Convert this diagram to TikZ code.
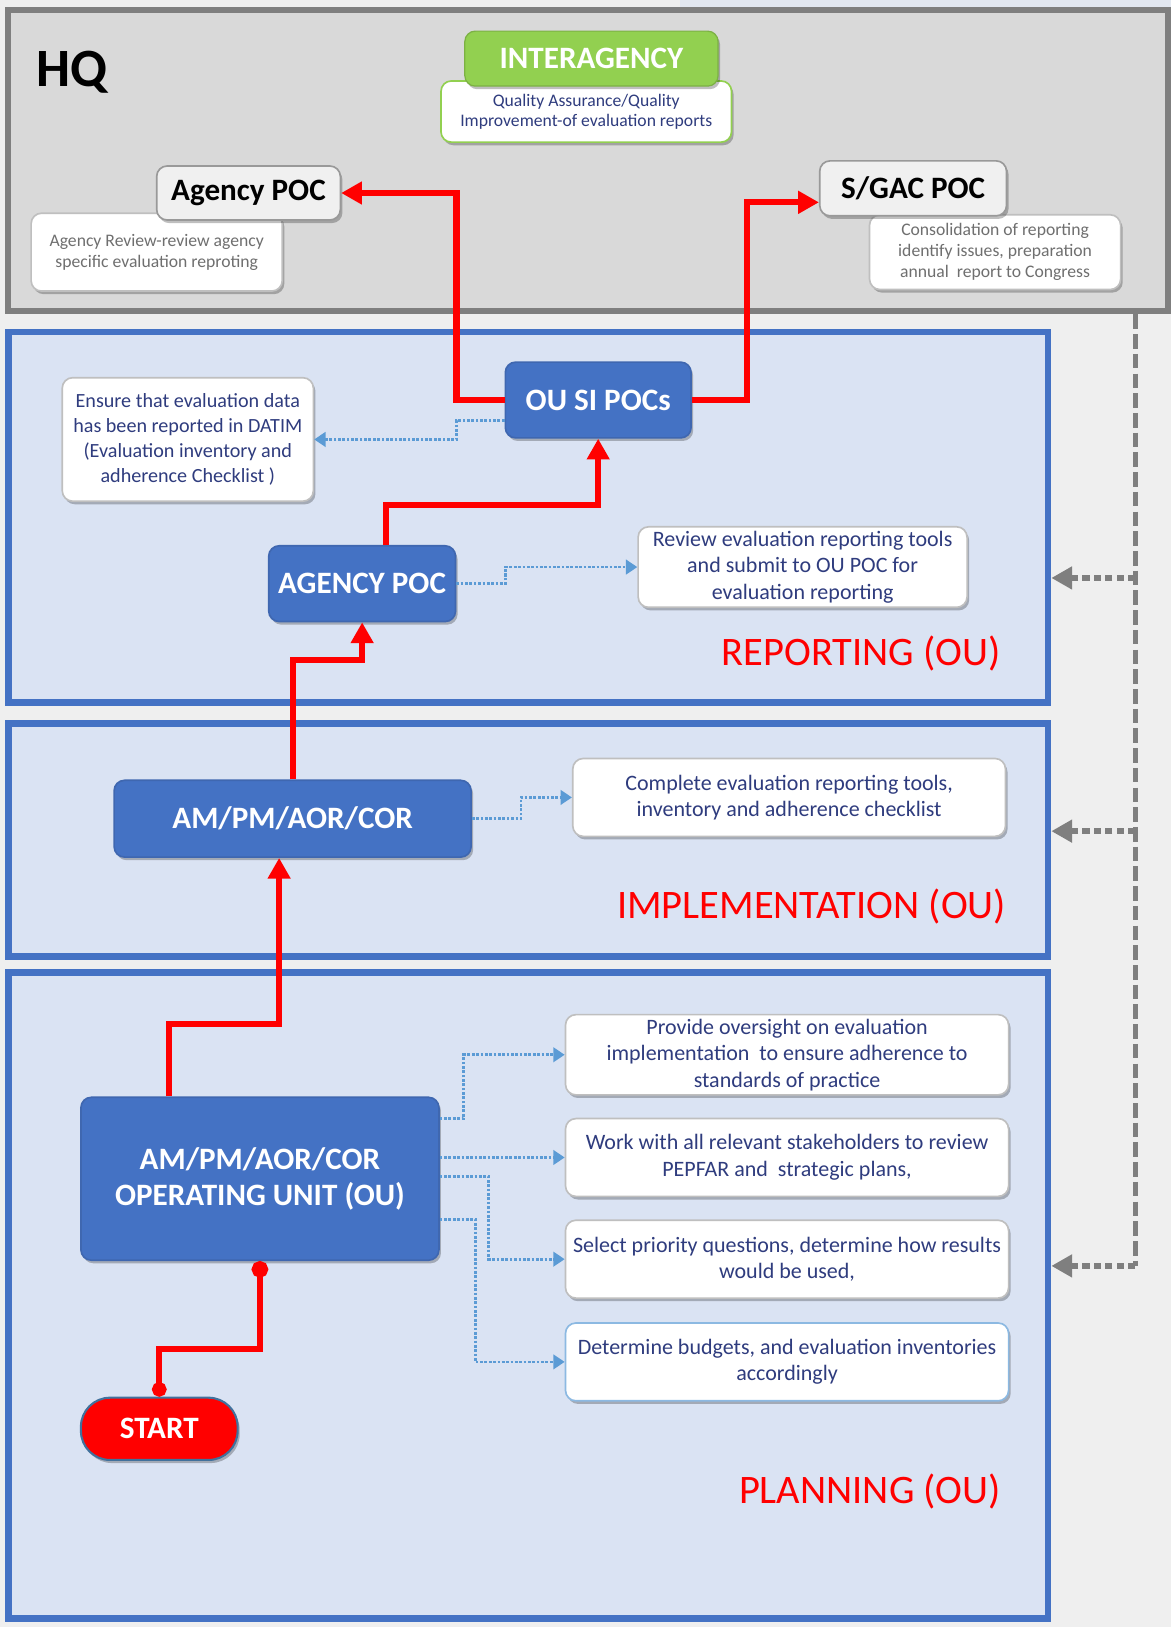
\documentclass[tikz,border=0pt]{standalone}
\usepackage{fontspec}
\setmainfont{Carlito}
\usetikzlibrary{arrows.meta,shadows,calc}
\definecolor{bgc}{HTML}{EFEFEF}
\definecolor{topstrip}{HTML}{E2E7F0}
\definecolor{hqfill}{HTML}{D9D9D9}
\definecolor{hqborder}{HTML}{7F7F7F}
\definecolor{secfill}{HTML}{DAE3F3}
\definecolor{secborder}{HTML}{4472C4}
\definecolor{bluefill}{HTML}{4472C4}
\definecolor{blueborder}{HTML}{3F67B0}
\definecolor{greenfill}{HTML}{92D050}
\definecolor{navytext}{HTML}{2F3C7E}
\definecolor{graytext}{HTML}{6F6F6F}
\definecolor{boxgray}{HTML}{BFBFBF}
\definecolor{dotblue}{HTML}{5B9BD5}
\definecolor{gline}{HTML}{7F7F7F}
\definecolor{startborder}{HTML}{41719C}
\tikzset{
  hqbox/.style={draw=hqborder, fill=hqfill, line width=3pt, inner sep=0pt},
  secbox/.style={draw=secborder, fill=secfill, line width=3.2pt, inner sep=0pt},
  shadowed/.style={drop shadow={shadow xshift=1pt, shadow yshift=-1.5pt, opacity=0.25, fill=black}},
  whitebox/.style={draw=boxgray, line width=0.8pt, fill=white, rounded corners=5pt, align=center, inner sep=2pt, text=navytext, font=\fontsize{10.6}{12.8}\selectfont, shadowed},
  hqwhite/.style={whitebox, text=graytext, font=\fontsize{8.5}{10.2}\selectfont},
  hqpoc/.style={draw=boxgray!80!black, line width=0.8pt, fill=white!94!black, rounded corners=5pt, align=center, font=\bfseries\fontsize{15}{17}\selectfont, text=black, shadowed},
  bluebox/.style={draw=blueborder, line width=0.8pt, fill=bluefill, rounded corners=5pt, align=center, text=white, font=\bfseries\fontsize{15}{17.5}\selectfont, shadowed},
  seclabel/.style={text=red, anchor=east, inner sep=0pt, font=\fontsize{19.5}{22}\selectfont},
  redl/.style={draw=red, line width=3pt, -{Triangle[length=10pt,width=10.5pt]}},
  bluel/.style={draw=dotblue, line width=1.3pt, dash pattern=on 1.3pt off 0.8pt, -{Triangle[length=5.5pt,width=7pt]}},
  grayv/.style={draw=gline, line width=2.3pt, dash pattern=on 7pt off 2.5pt},
  grayh/.style={draw=gline, line width=2.8pt, dash pattern=on 3.5pt off 2pt, -{Triangle[length=10pt,width=10.5pt]}}
}
\begin{document}
\begin{tikzpicture}[x=0.5pt,y=-0.5pt]
\useasboundingbox (0,0) rectangle (1129,1568);
\fill[bgc] (0,0) rectangle (1129,1568);
\fill[topstrip] (655,0) rectangle (1129,9);

% section boxes
\node[hqbox, minimum width=559pt, minimum height=145pt] (hq) at (567,155) {};
\node[secbox, minimum width=501pt, minimum height=178.5pt] (rep) at (509,498.5) {};
\node[secbox, minimum width=501pt, minimum height=112.5pt] (impl) at (509,809.5) {};
\node[secbox, minimum width=501pt, minimum height=311.5pt] (plan) at (509,1248.5) {};

% labels
\node[anchor=west, inner sep=0pt, font=\bfseries\fontsize{26}{30}\selectfont] (hqlabel) at (35,70) {HQ};
\node[seclabel] (replabel) at (965,630) {REPORTING (OU)};
\node[seclabel] (impllabel) at (970,874) {IMPLEMENTATION (OU)};
\node[seclabel] (planlabel) at (965,1437) {PLANNING (OU)};

% HQ nodes
\node[whitebox, draw=greenfill, minimum width=140pt, minimum height=29.5pt, font=\fontsize{8.5}{9.6}\selectfont] (qa) at (565,107.5) {Quality Assurance/Quality\\Improvement-of evaluation reports};
\node[draw=greenfill!85!black, line width=0.6pt, fill=greenfill, rounded corners=5pt, minimum width=122pt, minimum height=26.5pt, text=white, font=\bfseries\fontsize{15}{17}\selectfont, shadowed] (inter) at (570,56.5) {INTERAGENCY};

\node[hqwhite, minimum width=121pt, minimum height=37.5pt] (agrev) at (151,243) {Agency Review-review agency\\specific evaluation reproting};
\node[hqpoc, minimum width=88.5pt, minimum height=26pt] (hqagency) at (239.5,186) {Agency POC};

\node[hqwhite, minimum width=121pt, minimum height=36pt] (cons) at (959,243) {Consolidation of reporting\\identify issues, preparation\\annual\ \ report to Congress};
\node[hqpoc, minimum width=90pt, minimum height=26.5pt] (sgac) at (880,181.5) {S/GAC POC};

% Reporting nodes
\node[bluebox, minimum width=89.5pt, minimum height=36.5pt] (ousi) at (576.5,385.5) {OU SI POCs};
\node[whitebox, font=\fontsize{9.7}{12}\selectfont, minimum width=121pt, minimum height=59.5pt] (ensure) at (181,423.5) {Ensure that evaluation data\\has been reported in DATIM\\(Evaluation inventory and\\adherence Checklist )};
\node[bluebox, minimum width=90pt, minimum height=36.5pt] (agencyou) at (349,562.5) {AGENCY POC};
\node[whitebox, minimum width=158.5pt, minimum height=37.5pt] (revtools) at (773.5,546.5) {Review evaluation reporting tools\\and submit to OU POC for\\evaluation reporting};

% Implementation nodes
\node[bluebox, minimum width=172pt, minimum height=37pt] (ampm) at (282,789) {AM/PM/AOR/COR};
\node[whitebox, minimum width=208.5pt, minimum height=37.5pt] (complete) at (760.5,768.5) {Complete evaluation reporting tools,\\inventory and adherence checklist};

% Planning nodes
\node[bluebox, minimum width=172.5pt, minimum height=78.5pt] (ou) at (250.5,1136) {AM/PM/AOR/COR\\OPERATING UNIT (OU)};
\node[whitebox, minimum width=213.5pt, minimum height=37.5pt] (provide) at (758.5,1016.5) {Provide oversight on evaluation\\implementation\ \ to ensure adherence to\\standards of practice};
\node[whitebox, minimum width=213.5pt, minimum height=37.5pt] (work) at (758.5,1115.5) {Work with all relevant stakeholders to review\\PEPFAR and\ \ strategic plans,};
\node[whitebox, minimum width=213.5pt, minimum height=37.5pt] (select) at (758.5,1213.5) {Select priority questions, determine how results\\would be used,};
\node[whitebox, draw=dotblue!70, minimum width=213.5pt, minimum height=37.5pt] (determine) at (758.5,1312.5) {Determine budgets, and evaluation inventories\\accordingly};
\node[draw=startborder, line width=1pt, fill=red, rounded corners=14pt, minimum width=75.5pt, minimum height=30pt, text=white, font=\bfseries\fontsize{15}{17}\selectfont, shadowed] (start) at (153.5,1377) {START};

% coordinates for bends
\coordinate (r1) at (250.5,1300);
\coordinate (r2a) at (163,987);
\coordinate (r2b) at (269,987);
\coordinate (r3b) at (349,636);
\coordinate (r4a) at (372,487);
\coordinate (r5) at (440,300);
\coordinate (r6) at (720,300);
\coordinate (r6b) at (720,195);

% red connectors
\draw[redl, {Circle[length=7pt,width=7pt]}-{Circle[length=8pt,width=8pt]}] (start.north) |- (r1) -- (ou.south);
\draw[redl] (r2a |- ou.north) -- (r2a) -- (r2b) -- (r2b |- ampm.south);
\draw[redl] (ampm.north) |- (r3b) -- (agencyou.south);
\draw[redl] (r4a |- agencyou.north) -- (r4a) -| (ousi.south);
\draw[redl] (ousi.west) -| (r5) |- (hqagency.east);
\draw[redl] (ousi.east) -| (r6) -- (r6b) -- (r6b -| sgac.west);

% blue dotted connectors
\coordinate (b1) at (440,405);
\coordinate (b2) at (487,555);
\coordinate (b3) at (502,780);
\coordinate (o1) at (447,1078);
\coordinate (o3) at (471,1134);
\coordinate (o4) at (458,1175);
\draw[bluel] (b1 -| ousi.west) -- (b1) |- (ensure.east);
\draw[bluel] (agencyou.east) -| (b2) |- (revtools.west);
\draw[bluel] (ampm.east) -| (b3) |- (complete.west);
\draw[bluel] (o1 -| ou.east) -- (o1) |- (provide.west);
\draw[bluel] (ou.east |- work.west) -- (work.west);
\draw[bluel] (o3 -| ou.east) -- (o3) |- (select.west);
\draw[bluel] (o4 -| ou.east) -- (o4) |- (determine.west);

% gray dashed feedback
\coordinate (g0) at (1094,0);
\coordinate (gy1) at (0,557);
\coordinate (gy2) at (0,801);
\coordinate (gy3) at (0,1220);
\draw[grayv] (g0 |- hq.south) -- (g0 |- gy3);
\draw[grayh] (g0 |- gy1) -- (gy1 -| rep.east);
\draw[grayh] (g0 |- gy2) -- (gy2 -| impl.east);
\draw[grayh] (g0 |- gy3) -- (gy3 -| plan.east);
\end{tikzpicture}
\end{document}
